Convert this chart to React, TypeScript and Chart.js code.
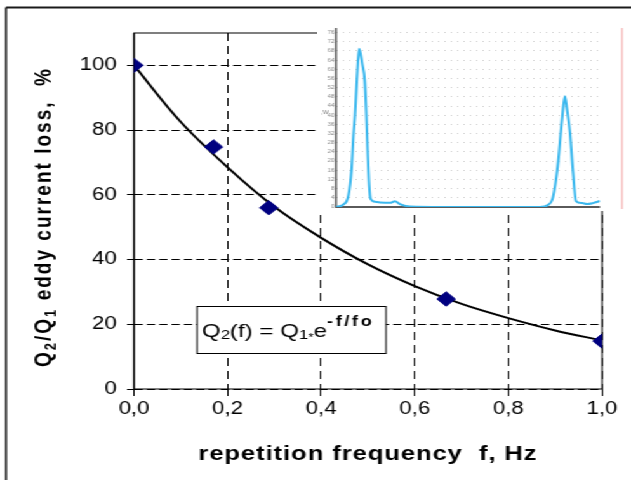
import React, { useEffect, useRef } from "react";
import { Chart, registerables } from "chart.js";

Chart.register(...registerables);

// The original picture is stretched horizontally; we draw on a narrower canvas and stretch it.
const CW = 497;
const CH = 480;
const STRETCH = 631 / CW;
const X = (realPx: number) => realPx / STRETCH;
const FONT = "'Liberation Sans', Arial, Helvetica, sans-serif";

// ---------- main chart data ----------
const measuredFreq = [0, 0.17, 0.288, 0.667, 1.0];
const measuredLoss = [100, 74.8, 56, 27.8, 14.8];
const fitFreq = [0, 0.1, 0.2, 0.3, 0.4, 0.5, 0.6, 0.7, 0.8, 0.9, 1.0];
const fitLoss = [100, 82.5, 68.5, 56.3, 46.7, 38.5, 31.8, 26.3, 21.9, 18.1, 15];
const xTickValues = [0, 0.2, 0.4, 0.6, 0.8, 1.0];
const yTickValues = [0, 20, 40, 60, 80, 100];
const xTitle = "repetition frequency  f, Hz";
const yTitleRuns: [string, boolean][] = [
  ["Q", false],
  ["2", true],
  ["/Q", false],
  ["1", true],
  [" eddy current loss,  %", false],
];

// ---------- inset (pulse power trace) data ----------
const insetTime = [
  0, 2.7, 4.7, 5.9, 6.6, 7.2, 7.8, 8.3, 8.8, 10.0, 10.9, 11.5, 12.0, 12.6, 13.1, 14.8, 16.7,
  20.5, 22.3, 24.2, 28, 40, 60, 77.3, 80.3, 82.2, 84, 85.6, 86.7, 87.5, 88.6, 89.8, 90.9,
  93.2, 95, 97.3, 100,
];
const insetPower = [
  0, 1, 5, 16.5, 31, 40, 53, 63, 69, 62, 55, 40, 24, 9, 3.5, 2.3, 2,
  1.8, 2.5, 1.3, 0.2, 0, 0, 0, 0.9, 4.3, 18, 38, 48.3, 42.6, 32.6, 15, 2.6,
  1.7, 1.3, 1.7, 2.6,
];
const insetTickValues = [0, 4, 8, 12, 16, 20, 24, 28, 32, 36, 40, 44, 48, 52, 56, 60, 64, 68, 72, 76];
const insetUnit = ",W";

type Run = { t: string; font: string; dy: number; ls?: number };

function drawRuns(ctx: any, runs: Run[], x: number, y: number, center: boolean, spacing: number) {
  let total = 0;
  const widths: number[] = [];
  runs.forEach((r) => {
    ctx.font = r.font;
    ctx.letterSpacing = `${r.ls ?? spacing}px`;
    const w = ctx.measureText(r.t).width;
    widths.push(w);
    total += w;
  });
  let cx = center ? x - total / 2 : x;
  runs.forEach((r, i) => {
    ctx.font = r.font;
    ctx.letterSpacing = `${r.ls ?? spacing}px`;
    ctx.fillText(r.t, cx, y + r.dy);
    cx += widths[i];
  });
  ctx.letterSpacing = "0px";
}

function fitSpacing(ctx: any, runs: Run[], target: number) {
  let natural = 0;
  let chars = 0;
  runs.forEach((r) => {
    ctx.font = r.font;
    ctx.letterSpacing = "0px";
    natural += ctx.measureText(r.t).width;
    chars += r.t.length;
  });
  return Math.max(0, (target - natural) / chars);
}

const mainDeco = {
  id: "mainDeco",
  beforeDraw(chart: any) {
    const ctx = chart.ctx;
    ctx.save();
    ctx.fillStyle = "#fff";
    ctx.fillRect(0, 0, chart.width, chart.height);
    ctx.restore();
  },
  beforeDatasetsDraw(chart: any) {
    const { ctx, chartArea: a } = chart;
    ctx.save();
    ctx.setLineDash([]);
    ctx.strokeStyle = "#000";
    ctx.lineWidth = 1;
    ctx.strokeRect(a.left, a.top, a.right - a.left, a.bottom - a.top);
    ctx.lineWidth = 1.4;
    ctx.beginPath();
    ctx.moveTo(a.left, a.top);
    ctx.lineTo(a.left, a.bottom + 0.5);
    ctx.stroke();

    // outer frame
    ctx.strokeStyle = "#1a1a1a";
    ctx.lineWidth = 2;
    ctx.beginPath();
    ctx.moveTo(X(6), 7.5);
    ctx.lineTo(chart.width + 5, 7.5);
    ctx.stroke();
    ctx.lineWidth = 1.6;
    ctx.beginPath();
    ctx.moveTo(X(6), 7.5);
    ctx.lineTo(X(6), chart.height + 5);
    ctx.stroke();

    // formula box
    ctx.fillStyle = "#fff";
    ctx.fillRect(X(197), 306, X(386) - X(197), 47);
    ctx.strokeStyle = "#000";
    ctx.lineWidth = 1;
    ctx.strokeRect(X(197), 306.5, X(386) - X(197), 47);
    ctx.fillStyle = "#000";
    ctx.textBaseline = "alphabetic";
    ctx.textAlign = "left";
    const big = `19px ${FONT}`;
    const small = `13px ${FONT}`;
    drawRuns(
      ctx,
      [
        { t: "Q", font: big, dy: 0 },
        { t: "2", font: small, dy: 1.5 },
        { t: "(f) = Q", font: big, dy: 0 },
        { t: "1", font: small, dy: 1.5 },
        { t: "*", font: `11px ${FONT}`, dy: 4 },
        { t: "e", font: big, dy: 0 },
        { t: "-f/fo", font: `bold 14px ${FONT}`, dy: -11, ls: 2.2 },
      ],
      X(202),
      337,
      false,
      0
    );
    ctx.restore();
  },
  afterDraw(chart: any) {
    const ctx = chart.ctx;
    ctx.save();
    ctx.fillStyle = "#000";
    ctx.textAlign = "left";
    ctx.textBaseline = "alphabetic";
    // x title
    const xr: Run[] = [{ t: xTitle, font: `bold 20px ${FONT}`, dy: 0 }];
    const xs = fitSpacing(ctx, xr, X(538) - X(199));
    drawRuns(ctx, xr, X(368), 460, true, xs);
    // y title (rotated)
    ctx.translate(X(51), 217);
    ctx.rotate(-Math.PI / 2);
    const yr: Run[] = yTitleRuns.map(([t, sub]) =>
      sub ? { t, font: `bold 13px ${FONT}`, dy: 4 } : { t, font: `bold 19px ${FONT}`, dy: 0 }
    );
    const ys = fitSpacing(ctx, yr, 300);
    drawRuns(ctx, yr, 0, 0, true, ys);
    ctx.restore();
  },
};

// inset geometry (internal canvas units)
const IL = 250;
const IT = 18;
const IW = CW - IL;
const IH = 211 - IT;

const insetDeco = {
  id: "insetDeco",
  beforeDraw(chart: any) {
    const ctx = chart.ctx;
    ctx.save();
    ctx.fillStyle = "#fff";
    ctx.fillRect(0, 0, chart.width, chart.height);
    ctx.restore();
  },
  beforeDatasetsDraw(chart: any) {
    const { ctx, chartArea: a } = chart;
    ctx.save();
    ctx.setLineDash([]);
    ctx.strokeStyle = "#5a5a5a";
    ctx.lineWidth = 1.6;
    ctx.beginPath();
    ctx.moveTo(a.left, a.top);
    ctx.lineTo(a.left, a.bottom + 1);
    ctx.stroke();
    ctx.lineWidth = 2;
    ctx.beginPath();
    ctx.moveTo(a.left, a.bottom);
    ctx.lineTo(a.right, a.bottom);
    ctx.stroke();
    ctx.restore();
  },
  afterDraw(chart: any) {
    const { ctx, chartArea: a } = chart;
    ctx.save();
    ctx.strokeStyle = "#f3a3a3";
    ctx.lineWidth = 1;
    ctx.beginPath();
    ctx.moveTo(X(622) - IL, a.top);
    ctx.lineTo(X(622) - IL, a.bottom + 2);
    ctx.stroke();
    ctx.fillStyle = "#777";
    ctx.font = `5px ${FONT}`;
    ctx.textBaseline = "middle";
    ctx.textAlign = "left";
    ctx.fillText(insetUnit, X(321) - IL, 113 - IT);
    ctx.restore();
  },
};

export default function App() {
  const mainRef = useRef<HTMLCanvasElement>(null);
  const insetRef = useRef<HTMLCanvasElement>(null);

  useEffect(() => {
    const main = new Chart(mainRef.current as HTMLCanvasElement, {
      type: "scatter",
      data: {
        datasets: [
          {
            label: "measured",
            data: measuredFreq.map((f, i) => ({ x: f, y: measuredLoss[i] })),
            pointStyle: "rectRot",
            pointRadius: 7.2,
            pointHoverRadius: 7.2,
            backgroundColor: "#000080",
            borderColor: "#000080",
            borderWidth: 1,
            showLine: false,
          },
          {
            label: "fit",
            data: fitFreq.map((f, i) => ({ x: f, y: fitLoss[i] })),
            showLine: true,
            borderColor: "#000",
            borderWidth: 2,
            pointRadius: 0,
            pointHoverRadius: 0,
            tension: 0.35,
            fill: false,
          },
        ],
      },
      options: {
        animation: false,
        responsive: false,
        events: [],
        layout: { padding: { left: 0, top: 33, right: CW - X(602), bottom: 0 } },
        plugins: { legend: { display: false }, tooltip: { enabled: false }, title: { display: false } },
        scales: {
          x: {
            type: "linear",
            min: 0,
            max: 1,
            afterBuildTicks: (s: any) => {
              s.ticks = xTickValues.map((v) => ({ value: v }));
            },
            afterFit: (s: any) => {
              s.height = CH - 389;
            },
            ticks: {
              color: "#000",
              font: { family: FONT, size: 17.5 },
              padding: 3,
              maxRotation: 0,
              autoSkip: false,
              callback: (v: any) => Number(v).toFixed(1).replace(".", ","),
            },
            grid: { color: "#000", lineWidth: 1, tickLength: 7, tickColor: "#000", tickWidth: 1, tickBorderDash: [] },
            border: { display: false, dash: [8, 5] },
          },
          y: {
            type: "linear",
            min: 0,
            max: 110,
            afterBuildTicks: (s: any) => {
              s.ticks = yTickValues.map((v) => ({ value: v }));
            },
            afterFit: (s: any) => {
              s.width = X(134);
            },
            ticks: {
              color: "#000",
              font: { family: FONT, size: 17.5 },
              padding: 8,
              autoSkip: false,
              callback: (v: any) => String(v),
            },
            grid: {
              color: "#000",
              lineWidth: 1,
              tickLength: X(134) - X(127),
              tickColor: "#000",
              tickWidth: 1,
              tickBorderDash: [],
            },
            border: { display: false, dash: [6.5, 3.2] },
          },
        },
      },
      plugins: [mainDeco],
    } as any);

    const inset = new Chart(insetRef.current as HTMLCanvasElement, {
      type: "scatter",
      data: {
        datasets: [
          {
            label: "pulse",
            data: insetTime.map((t, i) => ({ x: t, y: insetPower[i] })),
            showLine: true,
            borderColor: "#3bb8ee",
            borderWidth: 2,
            pointRadius: 0,
            pointHoverRadius: 0,
            cubicInterpolationMode: "monotone",
            fill: false,
          },
        ],
      },
      options: {
        animation: false,
        responsive: false,
        events: [],
        layout: { padding: { left: 0, top: 10, right: IW - (X(600) - IL), bottom: 0 } },
        plugins: { legend: { display: false }, tooltip: { enabled: false } },
        scales: {
          x: {
            type: "linear",
            min: 0,
            max: 100,
            ticks: { display: false },
            grid: { display: false },
            border: { display: false },
            afterFit: (s: any) => {
              s.height = IH - (208 - IT);
            },
          },
          y: {
            type: "linear",
            min: 0,
            max: 78,
            afterBuildTicks: (s: any) => {
              s.ticks = insetTickValues.map((v) => ({ value: v }));
            },
            afterFit: (s: any) => {
              s.width = X(336) - IL;
            },
            ticks: { color: "#888", font: { family: FONT, size: 5 }, padding: 1, autoSkip: false },
            grid: { color: "#cfcfcf", lineWidth: 1, drawTicks: false },
            border: { display: false, dash: [1, 4] },
          },
        },
      },
      plugins: [insetDeco],
    } as any);

    return () => {
      main.destroy();
      inset.destroy();
    };
  }, []);

  return (
    <div
      style={{
        position: "fixed",
        left: 0,
        top: 0,
        width: 631,
        height: 480,
        overflow: "hidden",
        background: "#fff",
      }}
    >
      <div
        style={{
          position: "absolute",
          left: 0,
          top: 0,
          width: CW,
          height: CH,
          transform: `scaleX(${STRETCH})`,
          transformOrigin: "0 0",
        }}
      >
        <canvas
          ref={mainRef}
          width={CW}
          height={CH}
          style={{ position: "absolute", left: 0, top: 0, width: CW, height: CH }}
        />
        <canvas
          ref={insetRef}
          width={IW}
          height={IH}
          style={{ position: "absolute", left: IL, top: IT, width: IW, height: IH }}
        />
      </div>
    </div>
  );
}
